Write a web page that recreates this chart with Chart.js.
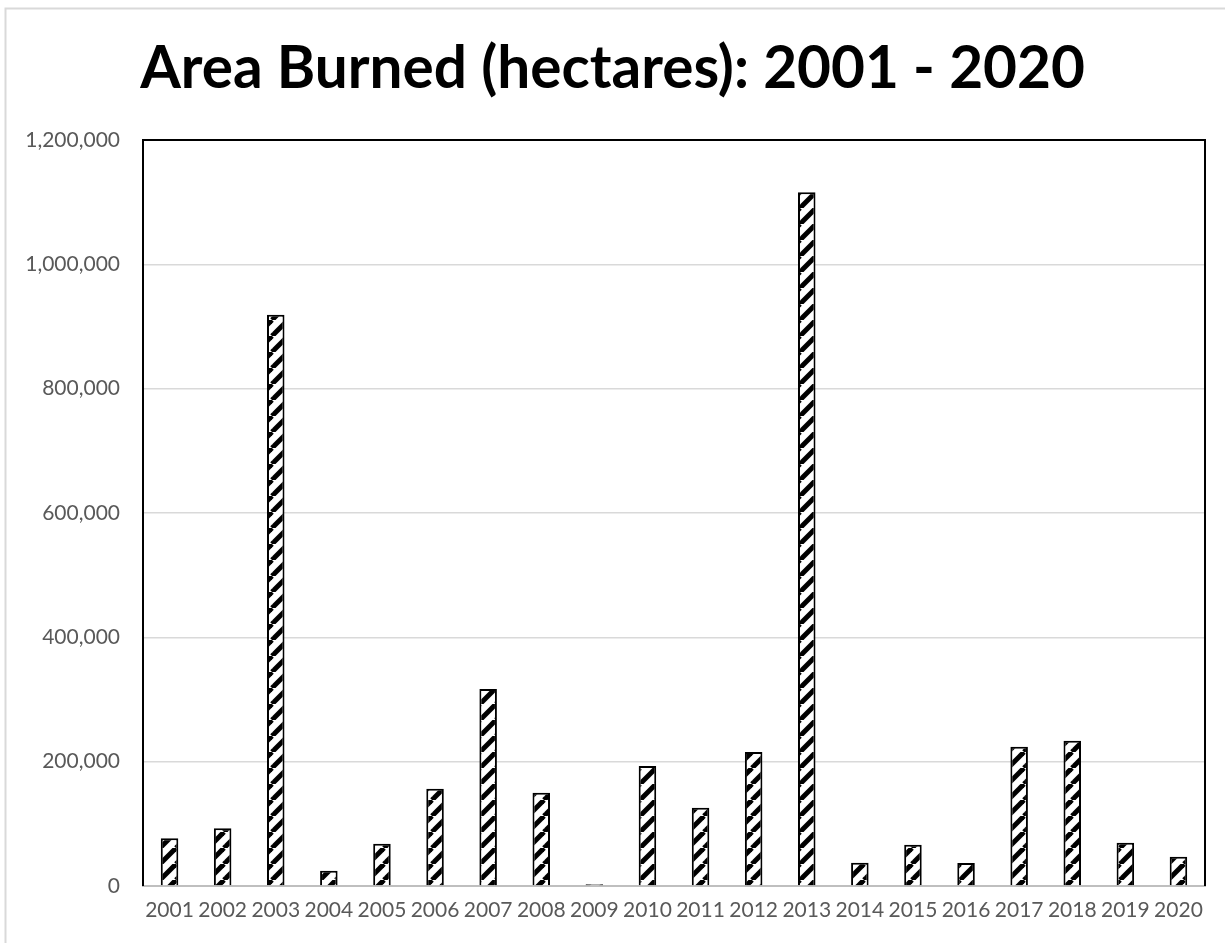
<!DOCTYPE html>
<html>
<head>
<meta charset="utf-8">
<script src="https://cdn.jsdelivr.net/npm/chart.js@4.4.1/dist/chart.umd.min.js"></script>
<style>
  html, body { margin: 0; padding: 0; background: #ffffff; }
  #wrap { width: 1225px; height: 943px; position: relative; }
</style>
</head>
<body>
<div id="wrap"><canvas id="c" width="1225" height="943"></canvas></div>
<script>
const titleText = "Area Burned (hectares): 2001 - 2020";
const years = ["2001","2002","2003","2004","2005","2006","2007","2008","2009","2010",
               "2011","2012","2013","2014","2015","2016","2017","2018","2019","2020"];
const areaBurned = [77000, 92800, 919000, 24600, 68000, 156500, 316900, 150100, 3000, 193000,
                    126000, 215500, 1115800, 37500, 66400, 37000, 224100, 233700, 69600, 47100];
const yTicks = [0, 200000, 400000, 600000, 800000, 1000000, 1200000];

function makeHatch() {
  const s = 16;
  const p = document.createElement('canvas');
  p.width = s; p.height = s;
  const g = p.getContext('2d');
  g.fillStyle = '#ffffff';
  g.fillRect(0, 0, s, s);
  g.strokeStyle = '#000000';
  g.lineWidth = 5;
  for (const x0 of [-s, 0, s]) {
    g.beginPath();
    g.moveTo(x0, s);
    g.lineTo(x0 + s, 0);
    g.stroke();
  }
  return document.getElementById('c').getContext('2d').createPattern(p, 'repeat');
}

const frame = {
  id: 'frame',
  beforeDraw(chart) {
    const ctx = chart.ctx;
    ctx.save();
    ctx.strokeStyle = '#d9d9d9';
    ctx.lineWidth = 2;
    ctx.beginPath();
    ctx.moveTo(5.5, 943);
    ctx.lineTo(5.5, 8.5);
    ctx.lineTo(1225, 8.5);
    ctx.stroke();
    ctx.restore();
  },
  afterDatasetsDraw(chart) {
    const a = chart.chartArea;
    const ctx = chart.ctx;
    ctx.save();
    ctx.strokeStyle = '#000000';
    ctx.lineWidth = 2;
    ctx.beginPath();
    ctx.moveTo(a.left, a.bottom);
    ctx.lineTo(a.left, a.top);
    ctx.lineTo(a.right, a.top);
    ctx.lineTo(a.right, a.bottom);
    ctx.stroke();
    ctx.restore();
  }
};

const fontFam = "Lato, 'Open Sans', sans-serif";

new Chart(document.getElementById('c'), {
  type: 'bar',
  data: {
    labels: years,
    datasets: [{
      data: areaBurned,
      backgroundColor: makeHatch(),
      borderColor: '#000000',
      borderWidth: 2,
      categoryPercentage: 1.0,
      barPercentage: 0.33
    }]
  },
  options: {
    responsive: false,
    animation: false,
    devicePixelRatio: 1,
    layout: { padding: { left: 20, right: 20, top: 0, bottom: 0 } },
    plugins: {
      legend: { display: false },
      tooltip: { enabled: false },
      title: {
        display: true,
        text: titleText,
        color: '#000000',
        font: { family: fontFam, size: 58.5, weight: 'bold', lineHeight: 1.2 },
        padding: { top: 34, bottom: 35.8 }
      }
    },
    scales: {
      x: {
        grid: { display: false, drawTicks: false },
        border: { display: true, color: '#bfbfbf', width: 2 },
        ticks: {
          color: '#595959',
          font: { family: fontFam, size: 21 },
          padding: 12,
          maxRotation: 0,
          autoSkip: false
        },
        afterFit(axis) { axis.height = 57; }
      },
      y: {
        min: 0,
        max: 1200000,
        afterBuildTicks(axis) { axis.ticks = yTicks.map(v => ({ value: v })); },
        grid: { color: '#d9d9d9', lineWidth: 1.5, drawTicks: false },
        border: { display: false },
        ticks: {
          color: '#595959',
          font: { family: fontFam, size: 21 },
          padding: 23,
          callback: (v) => Number(v).toLocaleString('en-US')
        },
        afterFit(axis) { axis.width = 123; }
      }
    }
  },
  plugins: [frame]
});
</script>
</body>
</html>
